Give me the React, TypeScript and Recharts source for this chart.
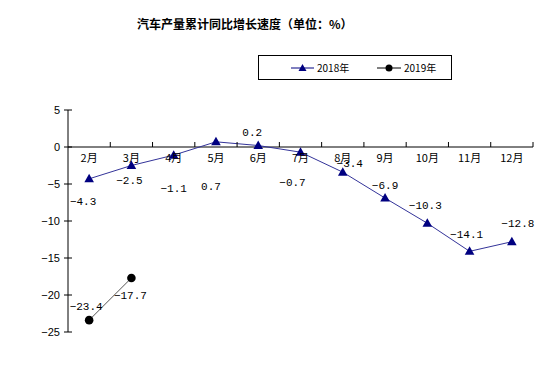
import { LabelList, Line, LineChart, ReferenceLine, XAxis, YAxis } from "recharts";

const months = ["2月", "3月", "4月", "5月", "6月", "7月", "8月", "9月", "10月", "11月", "12月"];
const growth2018 = [-4.3, -2.5, -1.1, 0.7, 0.2, -0.7, -3.4, -6.9, -10.3, -14.1, -12.8];
const growth2019: (number | null)[] = [-23.4, -17.7, null, null, null, null, null, null, null, null, null];
const yTicks = [5, 0, -5, -10, -15, -20, -25];

const data = months.map((m, i) => ({ m, y2018: growth2018[i], y2019: growth2019[i] }));

// label nudges, roughly where the original put them (dx, dy of text centre)
const OFF_2018: [number, number][] = [
  [-6, 22], [-2, 15], [0, 33], [-5, 44], [-6, -13], [-8, 30], [7, -9], [0, -13], [-2, -18], [-3, -17], [6, -19]
];
const OFF_2019: [number, number][] = [[-3, -14], [-1, 17]];

const W = 560;
const H = 385;
const AXIS_X = 68;
const TOP = 110;
const BOTTOM = 332;
const RIGHT = 533;
const BW = (RIGHT - AXIS_X) / months.length;
const ZERO_Y = TOP + ((BOTTOM - TOP) * 5) / 30;

const NAVY = "#000080";
const fmt = (v: number) => v.toFixed(1).replace("-", "−");

const Triangle = (p: any) => {
  const { cx, cy } = p;
  if (cx == null || cy == null) return null;
  return <polygon points={`${cx},${cy - 5} ${cx - 4.8},${cy + 3.5} ${cx + 4.8},${cy + 3.5}`} fill={NAVY} />;
};

const Dot = (p: any) => {
  const { cx, cy } = p;
  if (cx == null || cy == null) return null;
  return <circle cx={cx} cy={cy} r={4.3} fill="#000" />;
};

const makeLabel = (offs: [number, number][]) => (p: any) => {
  const { x, y, value, index } = p;
  if (value == null || !offs[index]) return null;
  const [dx, dy] = offs[index];
  return (
    <text x={x + dx} y={y + dy} dy="0.35em" textAnchor="middle" fontSize={11} fontFamily="Liberation Mono" fill="#000">
      {fmt(value)}
    </text>
  );
};

const XTick = (p: any) => {
  const { x, payload } = p;
  return (
    <g>
      <line x1={x + BW / 2} x2={x + BW / 2} y1={ZERO_Y - 5} y2={ZERO_Y} stroke="#000" />
      <text x={x} y={ZERO_Y + 11} dy="0.35em" textAnchor="middle" fontSize={11} fontFamily="Noto Sans CJK SC" fill="#000">
        {payload.value}
      </text>
    </g>
  );
};

const YTick = (p: any) => {
  const { y, payload } = p;
  return (
    <g>
      <line x1={AXIS_X - 4} x2={AXIS_X + 4} y1={y} y2={y} stroke="#000" />
      <text x={AXIS_X - 8} y={y} dy="0.35em" textAnchor="end" fontSize={11} fontFamily="Liberation Sans" fill="#000">
        {String(payload.value).replace("-", "−")}
      </text>
    </g>
  );
};

const LegendBox = () => (
  <div
    style={{
      position: "absolute",
      left: 258,
      top: 55,
      width: 194,
      height: 25,
      border: "1px solid #000",
      boxSizing: "border-box",
      fontFamily: "Noto Sans CJK SC",
      background: "#fff"
    }}
  >
    <svg width={192} height={23} style={{ position: "absolute", left: 0, top: 0 }}>
      <line x1={32} x2={55} y1={12} y2={12} stroke={NAVY} />
      <polygon points="43.5,8 39.5,15 47.5,15" fill={NAVY} />
      <text x={58} y={12} dy="0.35em" fontSize={10} fill="#000">2018年</text>
      <line x1={118} x2={142} y1={12} y2={12} stroke="#000" />
      <circle cx={130} cy={12} r={3.5} fill="#000" />
      <text x={145} y={12} dy="0.35em" fontSize={10} fill="#000">2019年</text>
    </svg>
  </div>
);

export default function App() {
  return (
    <div style={{ position: "absolute", left: 0, top: 0, width: W, height: H, background: "#fff" }}>
      <div
        style={{
          position: "absolute",
          left: 137,
          top: 15,
          fontFamily: "Noto Sans CJK SC",
          fontWeight: 700,
          fontSize: 12,
          color: "#000",
          whiteSpace: "nowrap"
        }}
      >
        汽车产量累计同比增长速度（单位：%）
      </div>
      <LineChart
        width={W}
        height={H}
        data={data}
        margin={{ top: TOP, left: AXIS_X - 40, right: W - RIGHT, bottom: H - BOTTOM - 20 }}
      >
        <XAxis
          dataKey="m"
          height={20}
          interval={0}
          axisLine={false}
          tickLine={false}
          padding={{ left: BW / 2, right: BW / 2 }}
          tick={<XTick />}
        />
        <YAxis
          width={40}
          domain={[-25, 5]}
          ticks={yTicks}
          interval={0}
          axisLine={{ stroke: "#000" }}
          tickLine={false}
          tick={<YTick />}
        />
        <ReferenceLine y={0} stroke="#000" />
        <Line
          dataKey="y2018"
          stroke="#333399"
          strokeWidth={1}
          dot={<Triangle />}
          activeDot={false}
          isAnimationActive={false}
        >
          <LabelList dataKey="y2018" content={makeLabel(OFF_2018)} />
        </Line>
        <Line
          dataKey="y2019"
          stroke="#555"
          strokeWidth={1}
          dot={<Dot />}
          activeDot={false}
          isAnimationActive={false}
        >
          <LabelList dataKey="y2019" content={makeLabel(OFF_2019)} />
        </Line>
      </LineChart>
      <LegendBox />
    </div>
  );
}
